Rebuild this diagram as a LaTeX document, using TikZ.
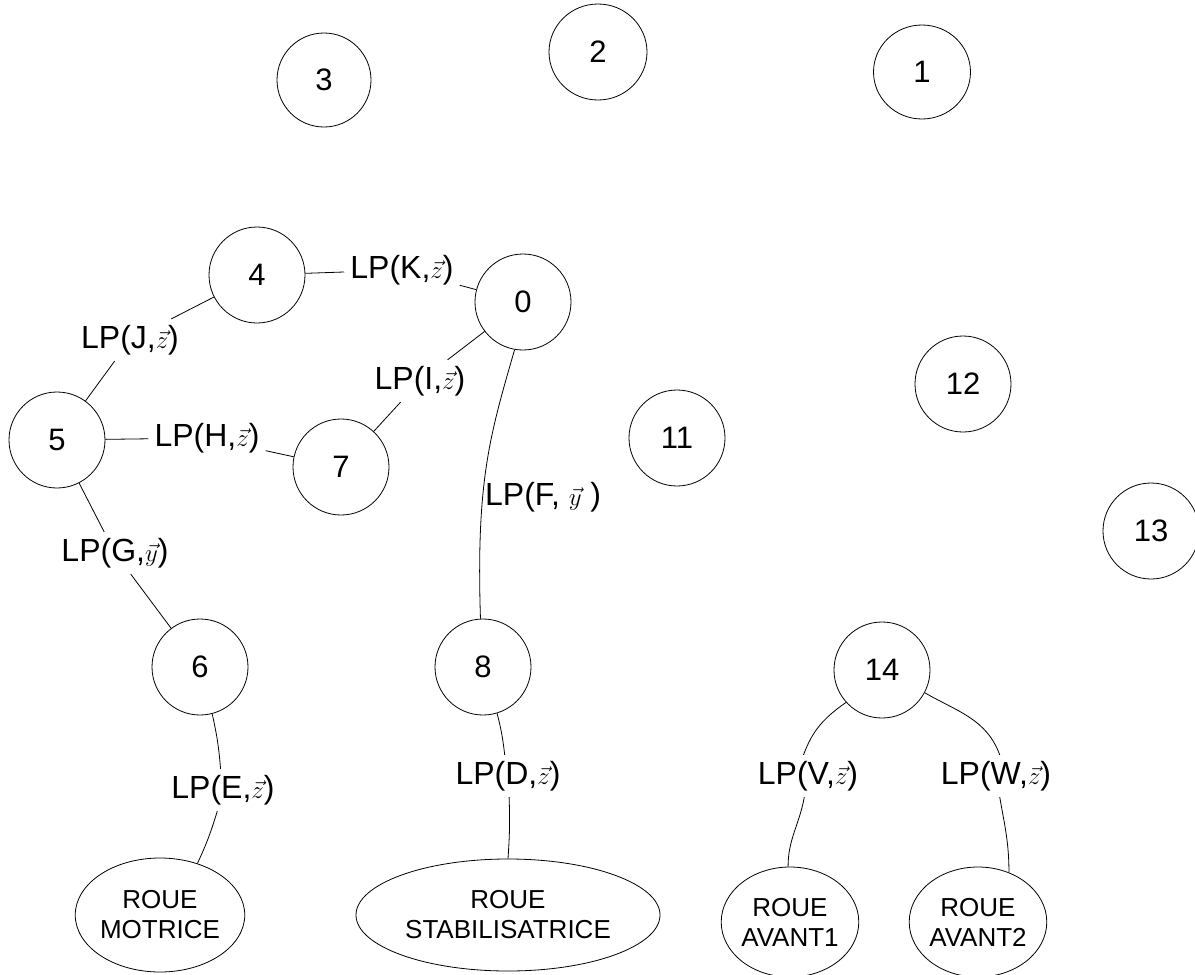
\documentclass[tikz,border=0pt]{standalone}
\usepackage{fontspec}
\setmainfont{Liberation Sans}
\usetikzlibrary{shapes.geometric}
\begin{document}
\begin{tikzpicture}[x=1pt,y=1pt,
  nd/.style={draw,ellipse,line width=0.8pt,inner sep=0pt,minimum width=96pt,minimum height=96pt,font=\fontsize{31}{34}\selectfont},
  wheel/.style={draw,ellipse,line width=0.8pt,inner sep=0pt,align=center,font=\fontsize{26}{30}\selectfont},
  lbl/.style={inner sep=6pt,font=\fontsize{32}{36}\selectfont},
  link/.style={line width=0.8pt}]
\useasboundingbox (0,0) rectangle (1195,-975);
% free nodes
\node[nd,minimum width=94pt,minimum height=94pt] (n3) at (324,-80) {3};
\node[nd,minimum width=98pt,minimum height=96pt] (n2) at (598,-52) {2};
\node[nd,minimum width=97pt,minimum height=94pt] (n1) at (922,-72) {1};
\node[nd] (n4) at (257,-275) {4};
\node[nd] (n0) at (523,-302) {0};
\node[nd] (n5) at (57,-440) {5};
\node[nd] (n7) at (341,-467) {7};
\node[nd] (n11) at (677,-438) {11};
\node[nd] (n12) at (963,-384) {12};
\node[nd] (n13) at (1151,-531) {13};
\node[nd] (n6) at (200,-667) {6};
\node[nd] (n8) at (483,-667) {8};
\node[nd] (n14) at (882,-670) {14};
% wheels
\node[wheel,minimum width=140pt,minimum height=114pt] (wm) at (160,-915) {ROUE\\MOTRICE};
\node[wheel,minimum width=304pt,minimum height=112pt] (ws) at (508,-915) {ROUE\\STABILISATRICE};
\node[wheel,minimum width=135pt,minimum height=110pt] (wa1) at (790,-922) {ROUE\\AVANT1};
\node[wheel,minimum width=135pt,minimum height=110pt] (wa2) at (978,-922) {ROUE\\AVANT2};
% labels
\node[lbl] (lK) at (402,-270) {LP(K,$\vec{z}$)};
\node[lbl] (lJ) at (130,-340) {LP(J,$\vec{z}$)};
\node[lbl] (lI) at (420,-381) {LP(I,$\vec{z}$)};
\node[lbl] (lH) at (207,-438) {LP(H,$\vec{z}$)};
\node[lbl,anchor=west,inner sep=1pt] (lF) at (484,-497) {LP(F, $\vec{y}$ )};
\node[lbl] (lG) at (115,-553) {LP(G,$\vec{y}$)};
\node[lbl] (lE) at (223,-790) {LP(E,$\vec{z}$)};
\node[lbl] (lD) at (508,-776) {LP(D,$\vec{z}$)};
\node[lbl] (lV) at (808,-776) {LP(V,$\vec{z}$)};
\node[lbl] (lW) at (996,-776) {LP(W,$\vec{z}$)};
% connectors
\draw[link] (n4) -- (lK) -- (n0);
\draw[link] (n4) -- (lJ) -- (n5);
\draw[link] (n0) -- (lI) -- (n7);
\draw[link] (n5) -- (lH) -- (n7);
\draw[link] (n5) -- (lG) -- (n6);
\draw[link] (n0.-100) .. controls (490,-435) and (476,-480) .. (n8.93);
\draw[link] (n6) to[bend left=4] (lE);
\draw[link] (lE) to[bend left=4] (wm.54);
\draw[link] (n8) to[bend left=4] (lD);
\draw[link] (lD) to[bend left=3] (ws.90);
\draw[link] (n14.-138) to[out=-145,in=70] (lV.102);
\draw[link] (lV.-100) to[out=-100,in=90] (wa1.92);
\draw[link] (n14.-28) to[out=-30,in=110] (lW.80);
\draw[link] (lW.-80) to[out=-80,in=90] (wa2.58);
\end{tikzpicture}
\end{document}
